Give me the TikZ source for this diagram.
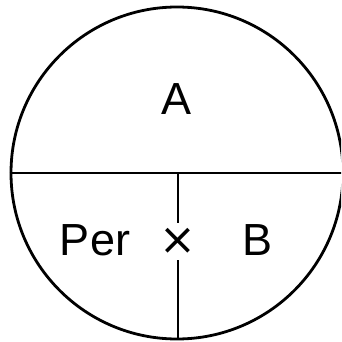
\documentclass[tikz,border=0pt]{standalone}
\usepackage{fontspec}
\setmainfont{Liberation Sans}
\newfontfamily\dvfont{DejaVu Sans}
\begin{document}
\begin{tikzpicture}[x=1pt,y=-1pt,
  lbl/.style={font=\fontsize{45}{45}\selectfont, inner sep=0pt},
  ln/.style={line width=2.8pt}]
\useasboundingbox (0,0) rectangle (341,342);
\clip (0,0) rectangle (341,342);
\node[ln, draw, circle, minimum size=332pt, inner sep=0pt] (c) at (177,173) {};
\draw[ln] (c.west) -- (c.east);
\node[lbl] (a) at (177,99) {A};
\node[lbl] (per) at (95,240) {Per};
\node[lbl] (b) at (258,240) {B};
\node[font=\dvfont\fontsize{44}{44}\selectfont, inner sep=0pt] (x) at (178,241) {×};
\coordinate (top) at (178,173);
\coordinate (gt) at (178,223);
\coordinate (gb) at (178,260);
\coordinate (bot) at (178,340);
\draw[ln] (top) -- (gt);
\draw[ln] (gb) -- (bot);
\end{tikzpicture}
\end{document}
